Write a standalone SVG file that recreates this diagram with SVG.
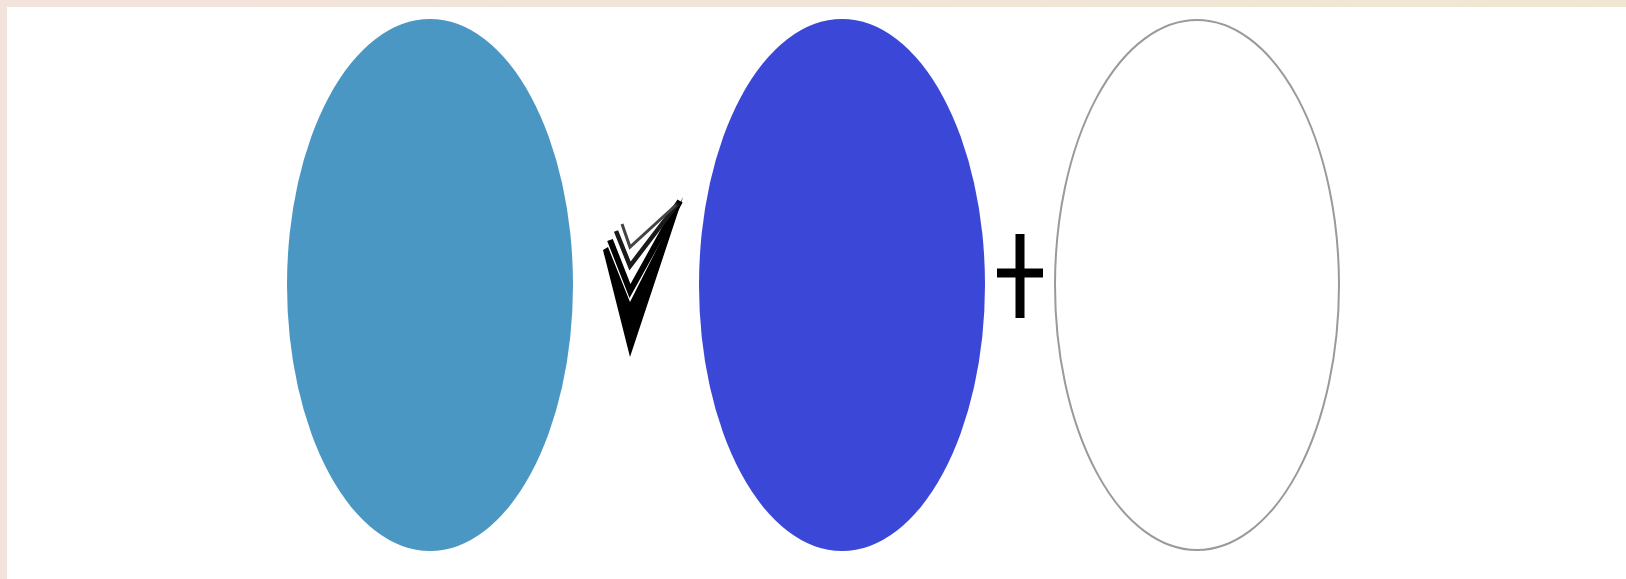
<svg xmlns="http://www.w3.org/2000/svg" width="1626" height="579" viewBox="0 0 1626 579">
<defs>
<linearGradient id="band" x1="0" y1="0" x2="1" y2="0">
<stop offset="0" stop-color="#f2e3dc"/>
<stop offset="1" stop-color="#efe7d4"/>
</linearGradient>
<style>
.chev{fill:none;stroke-linejoin:miter;stroke-miterlimit:20}
</style>
</defs>
<rect x="0" y="0" width="1626" height="579" fill="#ffffff"/>
<rect x="0" y="0" width="1626" height="7" fill="url(#band)"/>
<rect x="0" y="0" width="7" height="579" fill="#f2e3dc"/>
<g id="ellipse-light">
<ellipse cx="430" cy="285" rx="143" ry="266" fill="#4a97c4"/>
</g>
<g id="chevron">
<path d="M603,250 L630,357 L683,197 L630,302 L608,247 Z" fill="#000"/>
<path class="chev" d="M610,240 L630,291 L680,201" stroke="#000" stroke-width="6"/>
<path class="chev" d="M616,231 L630,266 L678,203" stroke="#1a1a1a" stroke-width="4.5"/>
<path class="chev" d="M622,224 L630,247 L676,205" stroke="#444" stroke-width="3"/>
</g>
<g id="ellipse-dark">
<ellipse cx="842" cy="285" rx="143" ry="266" fill="#3b47d6"/>
</g>
<g id="plus">
<path d="M1020,234 V318 M997,273 H1043" stroke="#000" stroke-width="9" fill="none"/>
</g>
<g id="ellipse-empty">
<ellipse cx="1197" cy="285" rx="142" ry="265" fill="#fff" stroke="#9a9a9a" stroke-width="2"/>
</g>
<g id="connectors"></g>
</svg>
